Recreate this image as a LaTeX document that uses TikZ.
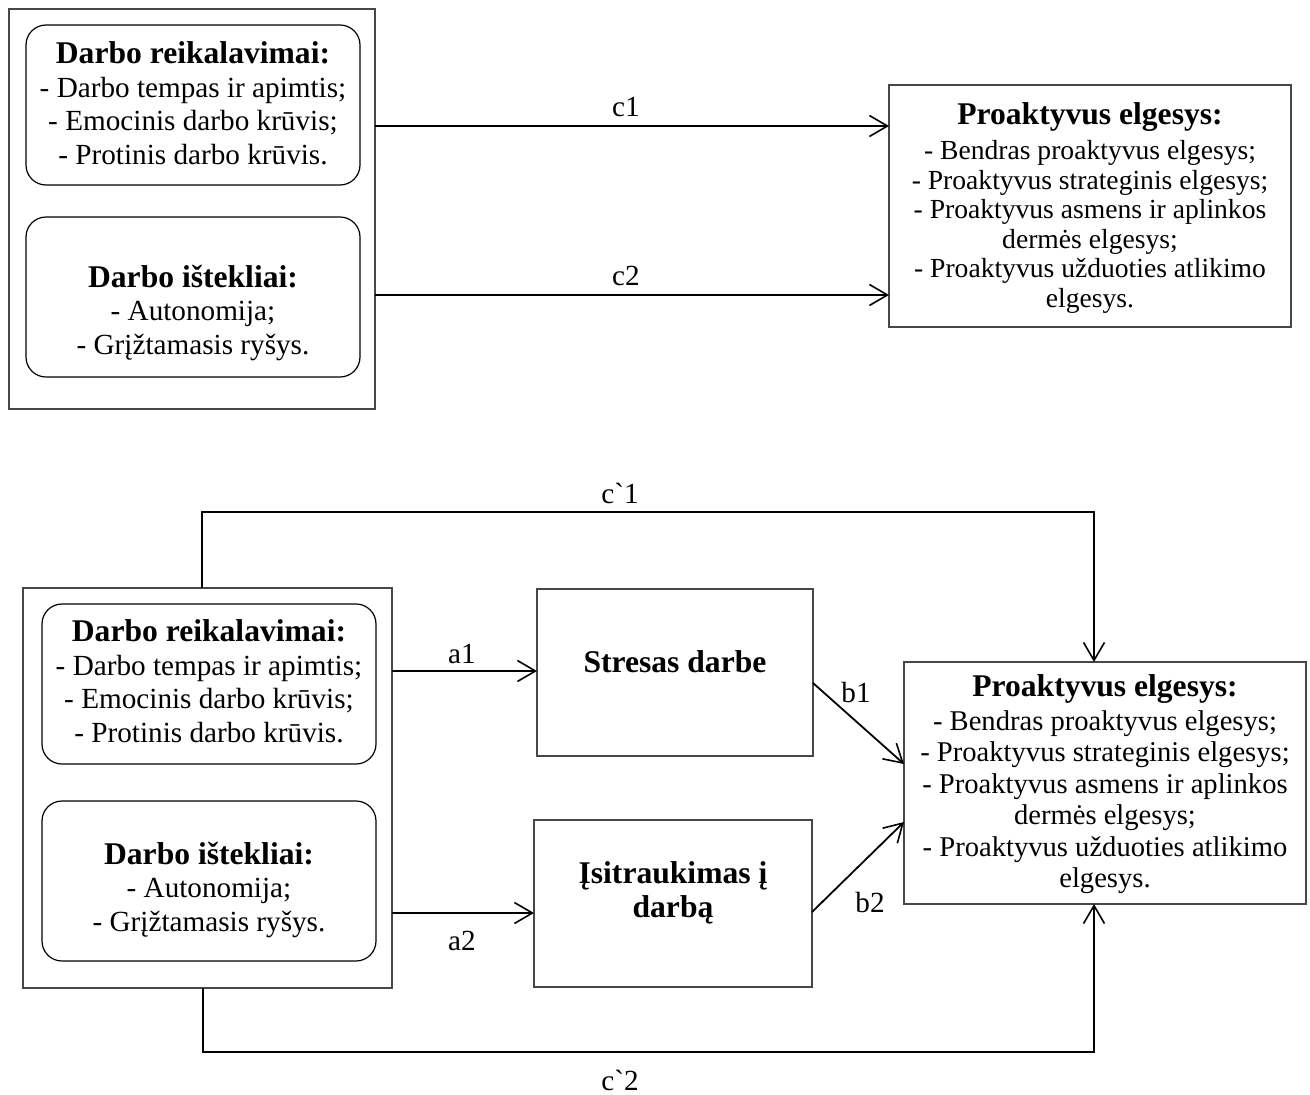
\documentclass[tikz,border=0pt]{standalone}
\usepackage{fontspec}
\setmainfont{Liberation Serif}
\usetikzlibrary{arrows.meta}
\begin{document}
\begin{tikzpicture}[x=1pt,y=-1pt,
  frame/.style={draw=black!72, line width=1.2pt, inner sep=0pt, outer sep=0pt, anchor=north west},
  rbox/.style={draw=black, line width=1.2pt, rounded corners=20pt, inner sep=0pt, outer sep=0pt, anchor=north west},
  conn/.style={draw=black, line width=1.8pt, -{Straight Barb[length=18pt,width=21pt,line width=1.6pt]}},
  txt/.style={align=center, inner sep=0pt, font=\fontsize{29.2}{33.5}\selectfont},
  ptxt/.style={align=center, inner sep=0pt, font=\fontsize{27.6}{29.5}\selectfont},
  pbtxt/.style={align=center, inner sep=0pt, font=\fontsize{28.6}{31.5}\selectfont},
  lbl/.style={inner sep=0pt, font=\fontsize{29.2}{33.5}\selectfont},
]
\newcommand{\hd}[1]{{\fontsize{31.6}{33.5}\selectfont\bfseries #1}}
\useasboundingbox[fill=white] (0,0) rectangle (1310,1095);

% ---------- top diagram ----------
\node[frame, minimum width=366pt, minimum height=400pt] (OT) at (9,9) {};
\node[rbox, minimum width=334pt, minimum height=160pt] (RT1) at (26,25) {};
\node[rbox, minimum width=334pt, minimum height=160pt] (RT2) at (26,217) {};
\node[frame, minimum width=402pt, minimum height=242pt] (PT) at (889,85) {};

\node[txt] (T1) at (193,103) {\hd{Darbo reikalavimai:}\\- Darbo tempas ir apimtis;\\- Emocinis darbo krūvis;\\- Protinis darbo krūvis.};
\node[txt] (T2) at (193,313) {\hd{Darbo ištekliai:}\\- Autonomija;\\- Grįžtamasis ryšys.};
\node[ptxt] (PTt) at (1090,208) {\hd{Proaktyvus elgesys:}\\[5.5pt]- Bendras proaktyvus elgesys;\\- Proaktyvus strateginis elgesys;\\- Proaktyvus asmens ir aplinkos\\dermės elgesys;\\- Proaktyvus užduoties atlikimo\\elgesys.};

\coordinate (y1) at (0,126);
\coordinate (y2) at (0,295);
\draw[conn] (OT.east |- y1) -- (PT.west |- y1);
\draw[conn] (OT.east |- y2) -- (PT.west |- y2);
\node[lbl] (lc1) at (626,107) {c1};
\node[lbl] (lc2) at (626,276) {c2};

% ---------- bottom diagram ----------
\node[frame, minimum width=369pt, minimum height=400pt] (OB) at (23,588) {};
\node[rbox, minimum width=334pt, minimum height=160pt] (RB1) at (42,604) {};
\node[rbox, minimum width=334pt, minimum height=160pt] (RB2) at (42,801) {};
\node[frame, minimum width=276pt, minimum height=167pt] (SD) at (537,589) {};
\node[frame, minimum width=278pt, minimum height=167pt] (IS) at (534,820) {};
\node[frame, minimum width=402pt, minimum height=242pt] (PB) at (904,662) {};

\node[txt] (B1t) at (209,681) {\hd{Darbo reikalavimai:}\\- Darbo tempas ir apimtis;\\- Emocinis darbo krūvis;\\- Protinis darbo krūvis.};
\node[txt] (B2t) at (209,890) {\hd{Darbo ištekliai:}\\- Autonomija;\\- Grįžtamasis ryšys.};
\node[txt] (SDt) at (675,662) {\hd{Stresas darbe}};
\node[txt] (ISt) at (673,893) {\hd{Įsitraukimas į}\\\hd{darbą}};
\node[pbtxt] (PBt) at (1105,784) {\hd{Proaktyvus elgesys:}\\[2.5pt]- Bendras proaktyvus elgesys;\\- Proaktyvus strateginis elgesys;\\- Proaktyvus asmens ir aplinkos\\dermės elgesys;\\- Proaktyvus užduoties atlikimo\\elgesys.};

\coordinate (ya1) at (0,671);
\coordinate (ya2) at (0,913);
\coordinate (yb1s) at (0,683);
\coordinate (yb1e) at (0,764);
\coordinate (yb2s) at (0,912);
\coordinate (yb2e) at (0,822);
\draw[conn] (OB.east |- ya1) -- (SD.west |- ya1);
\draw[conn] (OB.east |- ya2) -- (IS.west |- ya2);
\draw[conn] (SD.east |- yb1s) -- (PB.west |- yb1e);
\draw[conn] (IS.east |- yb2s) -- (PB.west |- yb2e);

\coordinate (k1) at (202,512);
\coordinate (k2) at (1094,512);
\coordinate (k3) at (203,1052);
\coordinate (k4) at (1094,1052);
\draw[conn] (OB.north -| k1) -- (k1) -- (k2) -- (k2 |- PB.north);
\draw[conn] (OB.south -| k3) -- (k3) -- (k4) -- (k4 |- PB.south);

\node[lbl] (la1) at (462,654) {a1};
\node[lbl] (la2) at (462,941) {a2};
\node[lbl] (lb1) at (856,693) {b1};
\node[lbl] (lb2) at (870,903) {b2};
\node[lbl] (lcp1) at (620,493) {c\textasciigrave 1};
\node[lbl] (lcp2) at (620,1080) {c\textasciigrave 2};
\end{tikzpicture}
\end{document}
